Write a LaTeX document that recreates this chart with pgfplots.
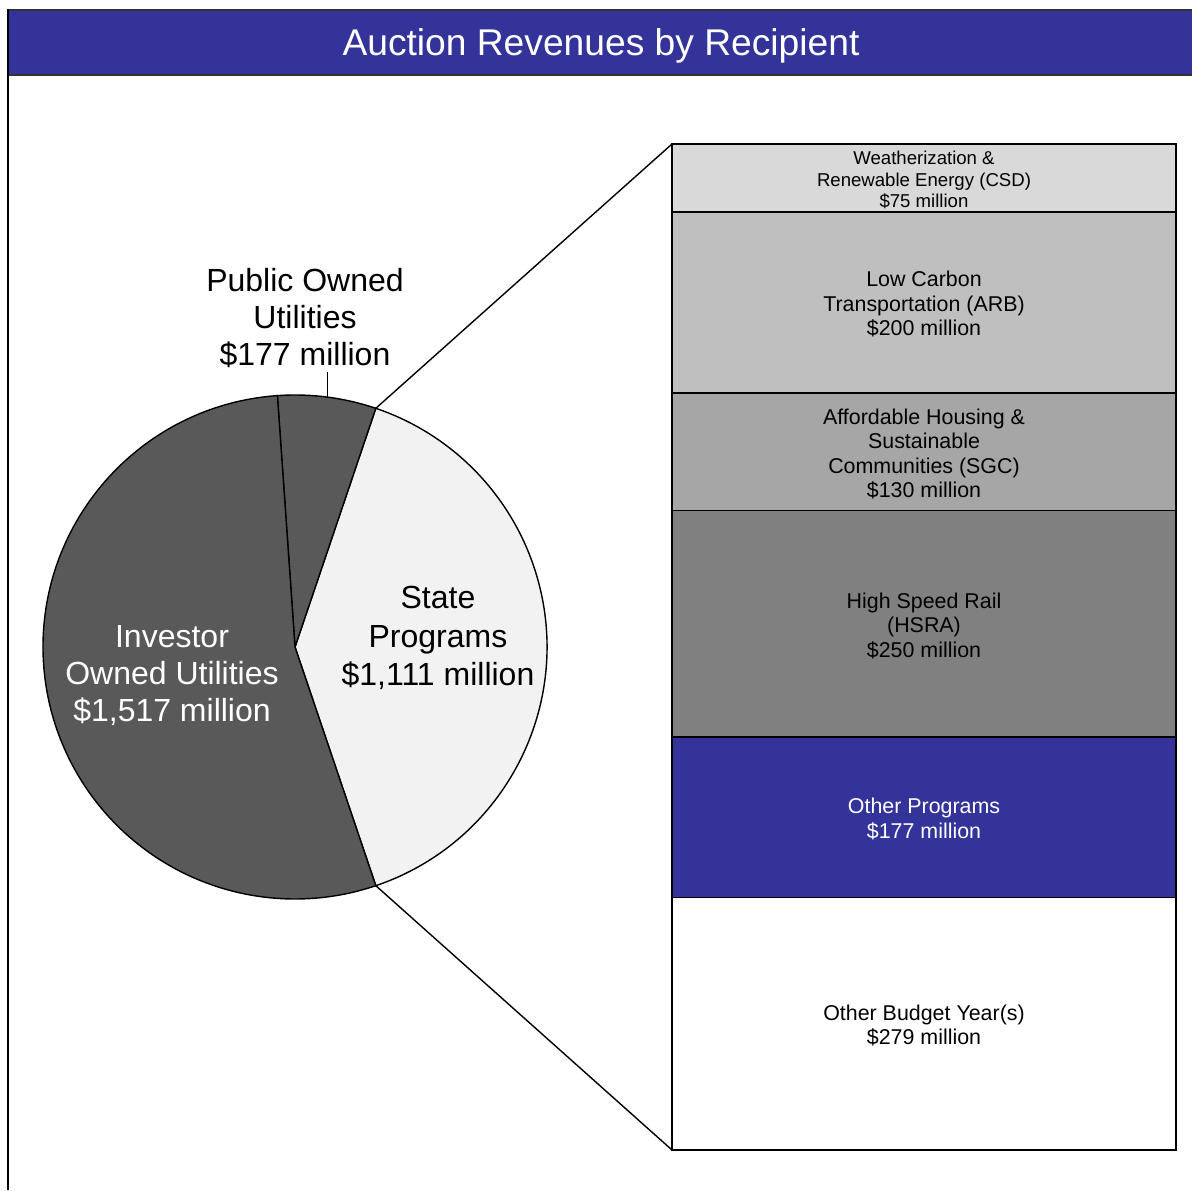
\documentclass[border=0pt]{standalone}
\usepackage{fontspec}
\setmainfont{Liberation Sans}
\usepackage{pgfplots}
\pgfplotsset{compat=1.18}
\definecolor{titleblue}{RGB}{51,51,153}
\definecolor{statecol}{RGB}{242,242,242}
\definecolor{utilcol}{RGB}{89,89,89}
\definecolor{csdcol}{RGB}{217,217,217}
\definecolor{arbcol}{RGB}{191,191,191}
\definecolor{sgccol}{RGB}{166,166,166}
\definecolor{hsracol}{RGB}{128,128,128}
\definecolor{othcol}{RGB}{51,51,153}
\begin{document}
\begin{tikzpicture}
\pgfmathsetmacro{\vS}{1111}
\pgfmathsetmacro{\vP}{177}
\pgfmathsetmacro{\vI}{1517}
\pgfmathsetmacro{\tot}{\vS+\vP+\vI}
\pgfmathsetmacro{\aS}{\vS/\tot*180}
\pgfmathsetmacro{\aP}{\aS+\vP/\tot*360}
\pgfmathsetmacro{\aPm}{(\aS+\aP)/2}
\pgfmathsetmacro{\aE}{360-\aS}
\begin{axis}[at={(0,0)},anchor=south west,width=596pt,height=595pt,scale only axis,
  xmin=0,xmax=1192,ymin=0,ymax=1190,hide axis,clip=false,disabledatascaling]
% title bar and frame
\fill[titleblue] (axis cs:8,1115) rectangle (axis cs:1192,1180);
\draw[line width=1pt,black!80] (axis cs:8,1180) -- (axis cs:1192,1180);
\draw[line width=1pt,black!80] (axis cs:8,1115) -- (axis cs:1192,1115);
\draw[line width=1.1pt] (axis cs:8,1180.5) -- (axis cs:8,0);
\node[text=white,font=\fontsize{18.6}{22}\selectfont] at (axis cs:601,1144) {Auction Revenues by Recipient};
% pie slices
\filldraw[fill=statecol,draw=black,line width=0.7pt] (axis cs:295,543) -- ({295+252*cos(-\aS)},{543+252*sin(-\aS)}) arc[start angle=-\aS,end angle=\aS,radius=252] -- cycle;
\filldraw[fill=utilcol,draw=black,line width=0.7pt] (axis cs:295,543) -- ({295+252*cos(\aS)},{543+252*sin(\aS)}) arc[start angle=\aS,end angle=\aP,radius=252] -- cycle;
\filldraw[fill=utilcol,draw=black,line width=0.7pt] (axis cs:295,543) -- ({295+252*cos(\aP)},{543+252*sin(\aP)}) arc[start angle=\aP,end angle=\aE,radius=252] -- cycle;
% connectors
\draw[line width=0.7pt] ({295+252*cos(\aS)},{543+252*sin(\aS)}) -- (axis cs:672,1046);
\draw[line width=0.7pt] ({295+252*cos(-\aS)},{543+252*sin(-\aS)}) -- (axis cs:672,40);
\draw[line width=0.7pt] ({295+252*cos(\aPm)},{543+252*sin(\aPm)}) -- ({295+252*cos(\aPm)},818);
% pie labels
\node[align=center,font=\fontsize{16}{18.5}\selectfont] at (axis cs:305,872) {Public Owned\\Utilities\\\$177 million};
\node[align=center,font=\fontsize{16}{19.2}\selectfont] at (axis cs:438,552) {State\\Programs\\\$1,111 million};
\node[align=center,text=white,font=\fontsize{16}{18.5}\selectfont] at (axis cs:172,514) {Investor\\Owned Utilities\\\$1,517 million};
\end{axis}
\begin{axis}[at={(336pt,20pt)},anchor=south west,width=252pt,height=503pt,scale only axis,
  xmin=-0.5,xmax=0.5,ymin=0,ymax=1111,hide axis,clip=false,ybar stacked,bar width=1,
  every axis plot/.append style={draw=black,line width=0.7pt}]
\addplot[fill=white] coordinates {(0,279)};
\addplot[fill=othcol] coordinates {(0,177)};
\addplot[fill=hsracol] coordinates {(0,250)};
\addplot[fill=sgccol] coordinates {(0,130)};
\addplot[fill=arbcol] coordinates {(0,200)};
\addplot[fill=csdcol] coordinates {(0,75)};
\end{axis}
\begin{axis}[at={(336pt,20pt)},anchor=south west,width=252pt,height=503pt,scale only axis,
  xmin=-0.5,xmax=0.5,ymin=0,ymax=1111,hide axis,clip=false]
\node[align=center,font=\fontsize{10.7}{12.25}\selectfont] at (axis cs:0,137.3) {Other Budget Year(s)\\\$279 million};
\node[align=center,text=white,font=\fontsize{10.7}{12.25}\selectfont] at (axis cs:0,365.3) {Other Programs\\\$177 million};
\node[align=center,font=\fontsize{10.7}{12.25}\selectfont] at (axis cs:0,578.8) {High Speed Rail\\(HSRA)\\\$250 million};
\node[align=center,font=\fontsize{10.7}{12.25}\selectfont] at (axis cs:0,768.8) {Affordable Housing \&\\Sustainable\\Communities (SGC)\\\$130 million};
\node[align=center,font=\fontsize{10.7}{12.25}\selectfont] at (axis cs:0,933.8) {Low Carbon\\Transportation (ARB)\\\$200 million};
\node[align=center,font=\fontsize{9.3}{10.75}\selectfont] at (axis cs:0,1071.3) {Weatherization \&\\Renewable Energy (CSD)\\\$75 million};
\end{axis}
\pgfresetboundingbox
\path (0,0) rectangle (596pt,595pt);
\end{tikzpicture}
\end{document}
